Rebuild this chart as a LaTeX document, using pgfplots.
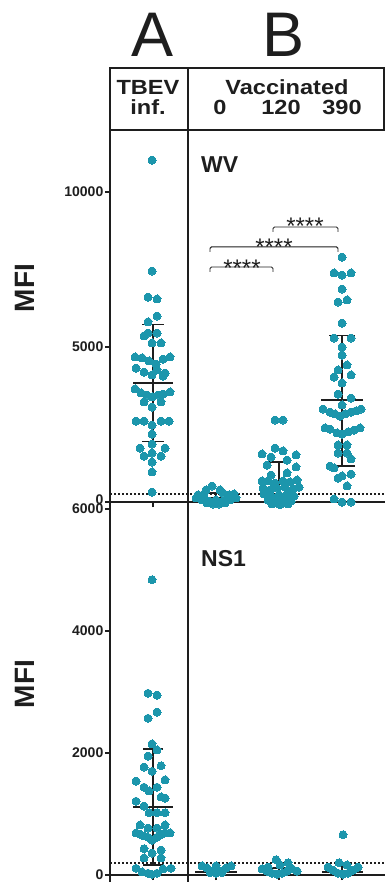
\documentclass[border=0pt]{standalone}
\usepackage{pgfplots}
\pgfplotsset{compat=1.18}
\usepackage{fontspec}
\setmainfont{Liberation Sans}
\definecolor{dotc}{RGB}{28,150,172}
\definecolor{ink}{RGB}{30,30,30}
\tikzset{brk/.style={ink, line width=0.9pt, rounded corners=1.5pt},
  hdr/.style={anchor=base, font=\fontsize{20.5}{20.5}\selectfont\bfseries, text=ink, inner sep=0pt, xscale=1.15},
  stars/.style={anchor=base, font=\fontsize{24}{24}\selectfont, text=ink, inner sep=0pt}}
\pgfplotsset{
  panel/.style={
    scale only axis, width=275pt, xmin=0, xmax=275,
    anchor=south west,
    axis x line=bottom, axis y line=left,
    axis line style={-, line width=1.6pt, draw=ink},
    xtick={43,106,169,232}, xticklabels={},
    tick align=outside, major tick length=5pt,
    tick style={line width=1.2pt, draw=ink},
    scaled y ticks=false,
    /pgf/number format/1000 sep={},
    /pgf/number format/assume math mode=true,
    yticklabel style={font=\fontsize{14}{14}\selectfont\bfseries, text=ink, inner sep=1.5pt},
    clip=false,
  },
  dots/.style={only marks, mark=*, mark size=4pt, mark options={draw=dotc, fill=dotc, line width=0pt}},
  bar/.style={ink, line width=1.3pt, forget plot},
  cut/.style={ink, line width=1.4pt, dash pattern=on 1.5pt off 2.5pt, forget plot},
}
\begin{document}
\begin{tikzpicture}[x=1pt,y=1pt]
\useasboundingbox (0,0) rectangle (385,-882);

% ---------------- WV panel ----------------
\begin{axis}[panel, at={(110pt,-502pt)}, height=372pt, ymin=0, ymax=12000, ytick={0,5000,10000},
  yticklabels={\raisebox{5pt}{0},5000,10000}]
\addplot[cut] coordinates {(0,260) (275,260)};
% TBEV infected
\addplot[dots] table {
42 11030
42 7450
38 6610
47 6550
47 6000
38 5810
34 5360
38 5450
47 5450
42 5130
51 5130
25 4680
32 4650
39 4550
46 4450
53 4610
60 4680
26 4320
34 4190
42 4100
47 4260
53 4060
55 4160
25 3650
31 3520
37 3450
42 3390
48 3450
53 3480
60 3550
34 3230
42 3060
51 3230
26 2610
34 2610
42 2480
51 2610
59 2610
42 2190
30 1740
42 1870
55 1740
34 1480
42 1580
51 1480
42 1290
42 970
42 320
};
% Vaccinated 0
\addplot[dots] table {
102 516
96 390
110 390
88 230
94 260
113 290
119 230
124 260
86 130
126 130
92 65
99 30
106 65
113 30
120 65
97 -30
103 -65
109 -65
115 -30
};
% Vaccinated 120
\addplot[dots] table {
165 2645
173 2645
165 1740
152 1550
161 1450
173 1650
186 1520
157 1190
177 1350
186 1130
177 940
161 870
152 680
158 680
165 610
173 680
180 650
187 710
153 450
160 390
167 450
175 480
183 420
189 480
154 260
161 190
169 230
177 260
184 190
158 60
166 30
174 60
181 30
162 -60
170 -90
178 -60
};
% Vaccinated 390
\addplot[dots] table {
232 7900
224 7390
232 7320
241 7390
232 6870
228 6450
237 6520
232 5770
224 5290
241 5290
232 5000
232 4740
237 4420
228 4260
224 4030
241 4100
232 3840
228 3480
241 3350
232 3130
213 3000
220 2900
225 2840
230 2770
235 2840
241 2900
246 2940
251 3000
215 2390
220 2350
227 2230
232 2190
238 2260
244 2320
250 2390
228 1840
237 1840
228 1580
237 1580
241 1390
220 1160
224 1100
228 770
232 840
241 900
237 520
224 100
232 0
241 0
};
% mean +/- SD
\addplot[bar] coordinates {(23,3840) (63,3840)};
\addplot[bar] coordinates {(43,1950) (43,5730)};
\addplot[bar] coordinates {(32,5730) (54,5730)};
\addplot[bar] coordinates {(32,1950) (54,1950)};
\addplot[bar] coordinates {(85,130) (127,130)};
\addplot[bar] coordinates {(106,0) (106,290)};
\addplot[bar] coordinates {(99,290) (113,290)};
\addplot[bar] coordinates {(148,680) (190,680)};
\addplot[bar] coordinates {(169,60) (169,1290)};
\addplot[bar] coordinates {(158,1290) (180,1290)};
\addplot[bar] coordinates {(158,60) (180,60)};
\addplot[bar] coordinates {(211,3290) (253,3290)};
\addplot[bar] coordinates {(232,1160) (232,5360)};
\addplot[bar] coordinates {(219,5360) (245,5360)};
\addplot[bar] coordinates {(219,1160) (245,1160)};
% significance brackets
\draw[brk] (axis cs:100,7420) -- (axis cs:100,7580) -- (axis cs:163,7580) -- (axis cs:163,7420);
\draw[brk] (axis cs:100,8070) -- (axis cs:100,8230) -- (axis cs:228,8230) -- (axis cs:228,8070);
\draw[brk] (axis cs:163,8710) -- (axis cs:163,8870) -- (axis cs:228,8870) -- (axis cs:228,8710);
\node[stars] at (axis cs:132,7265) {****};
\node[stars] at (axis cs:164,7942) {****};
\node[stars] at (axis cs:195,8620) {****};
\end{axis}

% ---------------- NS1 panel ----------------
\begin{axis}[panel, at={(110pt,-875pt)}, height=373pt, ymin=0, ymax=6115, ytick={0,2000,4000,6000}]
\addplot[cut] coordinates {(0,200) (275,200)};
\addplot[dots] table {
42 4840
38 2980
47 2950
47 2670
38 2570
42 2150
47 2050
38 1950
34 1770
42 1700
51 1790
26 1540
34 1440
39 1380
47 1440
55 1560
26 1210
34 1130
39 1020
47 1020
51 1280
55 1020
55 1260
30 820
38 770
47 770
55 820
26 690
30 670
34 640
38 620
42 570
47 620
51 660
55 690
60 690
34 430
42 360
51 410
34 280
51 280
26 110
32 50
38 30
47 30
53 100
61 110
42 10
};
\addplot[dots] table {
92 150
97 115
102 65
106 30
111 65
116 115
121 150
106 150
100 40
112 40
};
\addplot[dots] table {
166 250
170 165
178 200
158 130
152 100
157 65
162 30
167 15
172 30
177 65
182 100
187 65
};
\addplot[dots] table {
233 660
229 200
237 165
218 130
223 80
228 30
233 15
238 30
243 80
248 130
};
\addplot[bar] coordinates {(23,1115) (63,1115)};
\addplot[bar] coordinates {(43,165) (43,2065)};
\addplot[bar] coordinates {(33,2065) (53,2065)};
\addplot[bar] coordinates {(33,165) (53,165)};
\addplot[bar] coordinates {(85,50) (127,50)};
\addplot[bar] coordinates {(106,50) (106,100)};
\addplot[bar] coordinates {(99,100) (113,100)};
\addplot[bar] coordinates {(149,50) (190,50)};
\addplot[bar] coordinates {(169,50) (169,115)};
\addplot[bar] coordinates {(160,115) (178,115)};
\addplot[bar] coordinates {(212,50) (253,50)};
\addplot[bar] coordinates {(232,50) (232,164)};
\addplot[bar] coordinates {(225,164) (240,164)};
\end{axis}

% ---------------- frame and header ----------------
\draw[ink, line width=1.6pt] (110,-68) rectangle (384.2,-130);
\draw[ink, line width=1.6pt] (188,-68) -- (188,-882);
\draw[ink, line width=1.6pt] (110,-130) -- (110,-882);

\node[anchor=base, font=\fontsize{63}{63}\selectfont, text=ink, inner sep=0pt] at (153,-57) {A};
\node[anchor=base, font=\fontsize{63}{63}\selectfont, text=ink, inner sep=0pt] at (284,-57) {B};
\node[hdr] at (148,-95) {TBEV};
\node[hdr] at (148,-115) {inf.};
\node[hdr] at (287,-95) {Vaccinated};
\node[hdr] at (220,-115) {0};
\node[hdr] at (281,-115) {120};
\node[hdr] at (342,-115) {390};

\node[anchor=base west, font=\fontsize{23}{23}\selectfont\bfseries, text=ink, inner sep=0pt] at (201,-173) {WV};
\node[anchor=base west, font=\fontsize{23}{23}\selectfont\bfseries, text=ink, inner sep=0pt] at (201,-566) {NS1};

\node[rotate=90, font=\fontsize{28}{28}\selectfont\bfseries, text=ink, inner sep=0pt] at (25,-288) {MFI};
\node[rotate=90, font=\fontsize{28}{28}\selectfont\bfseries, text=ink, inner sep=0pt] at (25,-684) {MFI};
\end{tikzpicture}
\end{document}
